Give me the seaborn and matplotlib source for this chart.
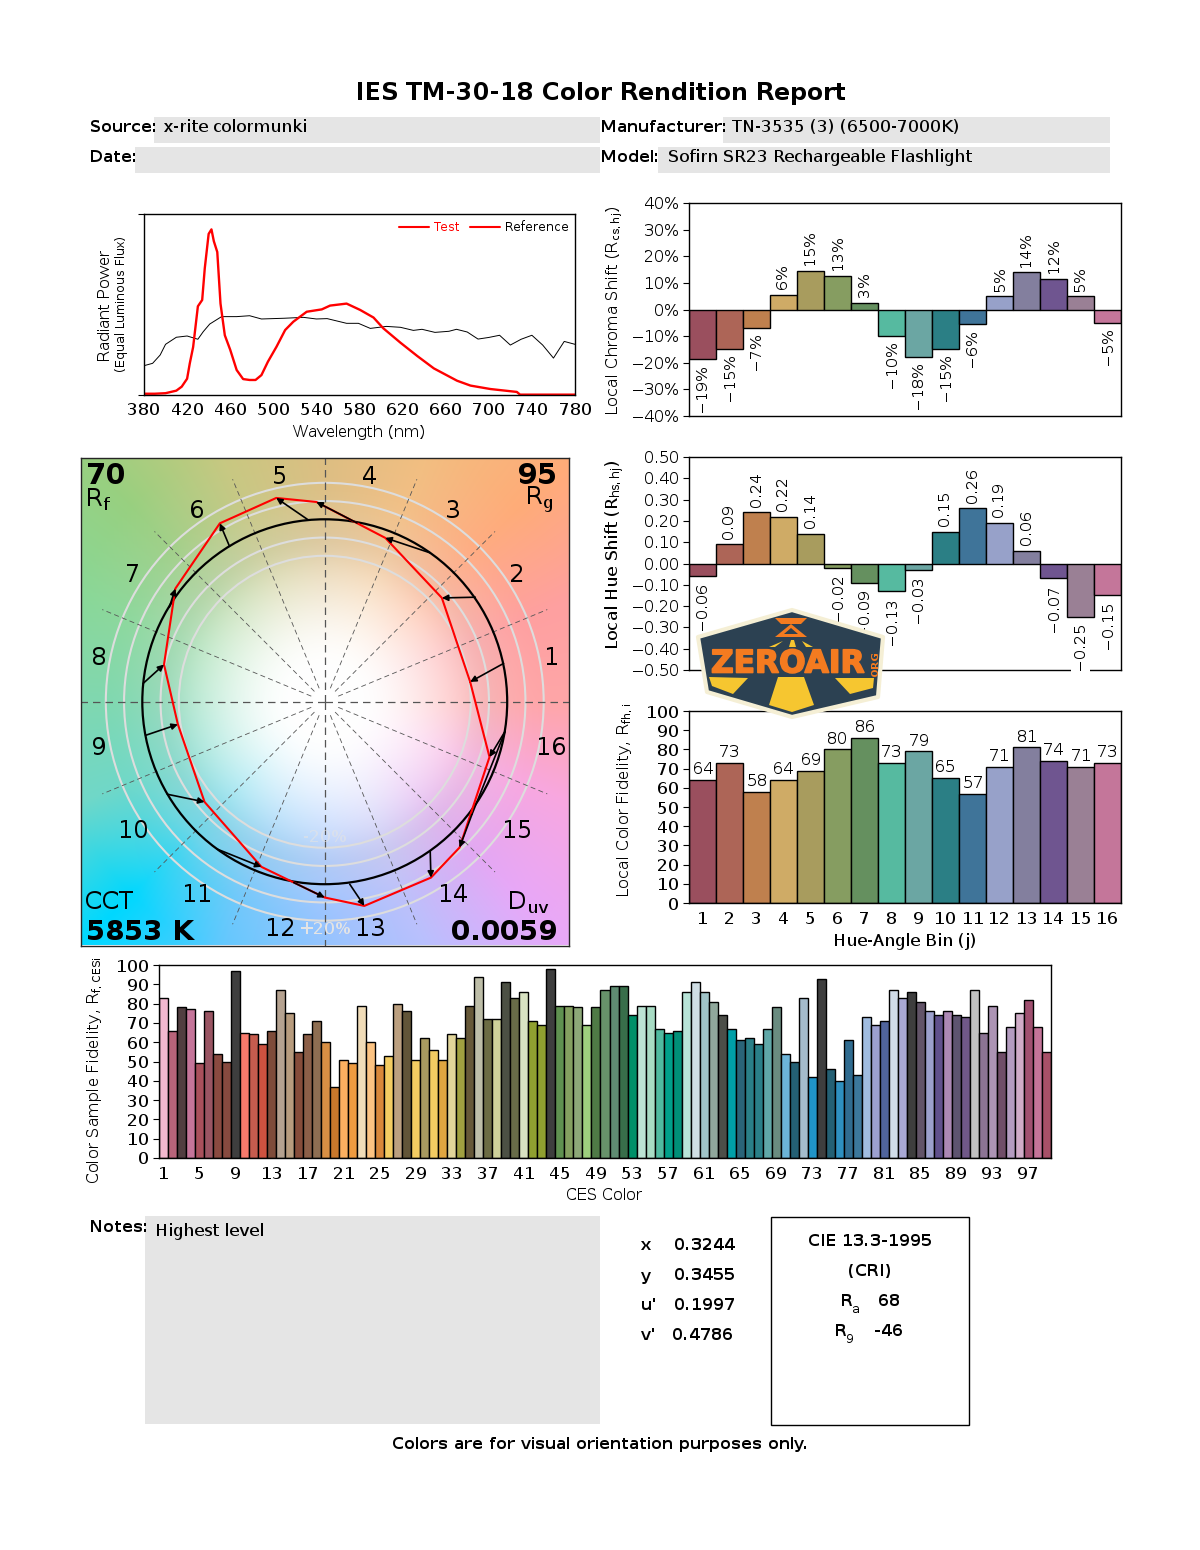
import numpy as np
import matplotlib
matplotlib.use("Agg")
import matplotlib.pyplot as plt
import matplotlib.patheffects as pe
from matplotlib.lines import Line2D
from matplotlib.patches import Circle, Polygon, Rectangle
import seaborn as sns

# spectra (relative power)
test_wl = [380, 390, 400, 410, 415, 420, 422.5, 425.6, 430, 434, 436.4, 440, 442.6, 444.8, 448, 451, 455, 460,
           466, 472, 478, 483.5, 489, 495, 503, 511, 518.6, 531, 545, 552.7, 568, 580.6, 593, 602, 618, 633.7,
           649, 670.5, 683, 701.5, 726, 729, 780]
test_power = [.007, .007, .010, .024, .046, .090, .175, .265, .490, .525, .700, .890, .915, .850, .790, .505, .330,
              .250, .138, .088, .083, .083, .110, .184, .267, .359, .405, .460, .473, .494, .505, .470, .428, .369,
              .289, .215, .147, .079, .052, .033, .017, .002, .002]
ref_wl = [380, 388, 395, 400, 410, 420, 430, 435, 441, 452, 466, 478, 489, 510, 528, 540, 550, 568, 579, 590, 605,
          618, 630, 638, 650, 663, 670, 680, 690, 700, 710, 720, 730, 740, 750, 760, 770, 780]
ref_power = [.162, .175, .221, .280, .319, .326, .308, .350, .392, .433, .433, .438, .420, .424, .429, .420, .422,
             .396, .396, .368, .379, .374, .357, .363, .346, .352, .363, .348, .309, .318, .330, .276, .308, .330,
             .276, .204, .296, .280]

bins = [str(i) for i in range(1, 17)]
bin_colors = ["#9A4F5E", "#AD6557", "#BF804E", "#CFAB66", "#A89C5E", "#869D61", "#65905F", "#56BAA0",
              "#6BA6A3", "#2B7F85", "#3F7499", "#97A1C9", "#837F9E", "#6F5590", "#9A8095", "#C4769A"]
chroma_shift = [-18.7, -14.7, -6.8, 5.6, 14.6, 12.7, 2.6, -9.8, -17.7, -14.7, -5.6, 4.9, 13.9, 11.6, 4.9, -4.9]
hue_shift = [-.06, .09, .24, .22, .14, -.02, -.09, -.13, -.03, .15, .26, .19, .06, -.07, -.25, -.15]
local_fidelity = [64, 73, 58, 64, 69, 80, 86, 73, 79, 65, 57, 71, 81, 74, 71, 73]

ces = [str(i) for i in range(1, 100)]
ces_fidelity = [83, 66, 78, 77, 49, 76, 54, 50, 97, 65, 64, 59, 66, 87, 75, 55, 64, 71, 60, 37,
                51, 49, 79, 60, 48, 53, 80, 76, 51, 62, 56, 51, 64, 62, 79, 94, 72, 72, 91, 83,
                86, 71, 69, 98, 79, 79, 78, 69, 78, 87, 89, 89, 74, 79, 79, 67, 65, 66, 86, 91,
                86, 81, 74, 67, 61, 62, 59, 67, 78, 54, 50, 83, 42, 93, 46, 40, 61, 43, 73, 69,
                71, 87, 83, 86, 81, 76, 74, 76, 74, 73, 87, 65, 79, 55, 68, 75, 82, 68, 55]
ces_colors = ["#F2B8CF", "#B8647A", "#513E40", "#C5759A", "#A9505C", "#9A5563", "#8A4A40", "#874A3F", "#3E3E3E",
              "#F87A6C", "#C65C4E", "#CE5240", "#7E4C3A", "#B5A290", "#B89C7E", "#864C3A", "#8C5F48", "#8E6E52",
              "#D88F44", "#C9782C", "#FBB060", "#EE9B40", "#F0DCB8", "#FCC382", "#D8873A", "#F3CC62", "#BCA080",
              "#625538", "#F3CC62", "#A89A60", "#F3CC62", "#E0A640", "#E1D59A", "#A0A040", "#665838", "#BEBEA8",
              "#6C6C44", "#CFD29A", "#4C5044", "#686C48", "#D8E2C2", "#90A030", "#90A030", "#3E3E3E", "#5F9150",
              "#84A060", "#8DA878", "#9ED07E", "#4F7A46", "#67926A", "#5F8C72", "#386E4A", "#009068", "#BCE4D4",
              "#A8DCC4", "#50BAA0", "#00A08A", "#009078", "#B8E4D8", "#D0DEE4", "#A0C4C8", "#90A89C", "#4C4E48",
              "#00A0A8", "#2A6478", "#2A8088", "#2A8088", "#60A8A8", "#6A8C80", "#6CB4D8", "#246074", "#A4BCCC",
              "#2094C8", "#3E3E3E", "#246074", "#2E90C0", "#306C90", "#3C789C", "#A0BCE0", "#9CA0D0", "#50649C",
              "#D0DCE8", "#A8A8D4", "#3E3E3E", "#625468", "#9CA0CC", "#60508C", "#AC88B4", "#5E5470", "#705888",
              "#C0C0C0", "#8C7494", "#AC94B4", "#704E68", "#B49CC0", "#D0ACC8", "#A05070", "#C47498", "#A85068"]

# gamut graph, bins 1-16, reference circle units
ref_x = [.980, .825, .578, .177, -.088, -.522, -.852, -.996, -.982, -.863, -.589, -.170, .137, .578, .807, .989]
ref_y = [.210, .573, .816, .980, .995, .852, .518, .100, -.184, -.507, -.808, -.991, -1.0, -.818, -.617, -.161]
test_x = [.797, .642, .332, -.046, -.266, -.575, -.819, -.881, -.805, -.659, -.347, 0, .217, .582, .739, .903]
test_y = [.109, .569, .898, 1.095, 1.117, .978, .620, .204, -.124, -.549, -.905, -1.073, -1.119, -.964, -.799, -.303]
wheel_angles = [0, 22.5, 45, 67.5, 90, 112.5, 135, 157.5, 180, 202.5, 225, 247.5, 270, 292.5, 315, 337.5, 360]
wheel_colors = ["#FFA6A8", "#FFA0A0", "#FFAC78", "#F2BE80", "#DDBD7F", "#C8C880", "#98D080", "#88D898", "#80D8B0",
                "#70D8C8", "#00D8FF", "#60C8FF", "#90C4FF", "#B8C0FF", "#E8A8F8", "#F8A8E0", "#FFA6A8"]
wheel_inner = ["#FFA6A8", "#FFA0A0", "#FFAC88", "#F2C088", "#DDC088", "#C8C888", "#A8D090", "#90D8A0", "#80D8B0",
               "#70D8C8", "#60D4E8", "#80C8F8", "#A0C4FF", "#C0C0F8", "#E0A8F0", "#F8A8E0", "#FFA6A8"]

W, H = 1200, 1550
sns.set_style("ticks")
plt.rcParams["font.family"] = ["DejaVu Sans"]
plt.rcParams["mathtext.default"] = "regular"
plt.rcParams["text.hinting"] = "native"
plt.rcParams["text.hinting_factor"] = 1
for key in ["text.color", "axes.labelcolor", "xtick.color", "ytick.color"]:
    plt.rcParams[key] = "black"
GREY = "#E5E5E5"

fig = plt.figure(figsize=(W / 100, H / 100), dpi=100)
page = fig.add_axes([0, 0, 1, 1], zorder=10)
page.set_xlim(0, W)
page.set_ylim(H, 0)
page.axis("off")
page.patch.set_alpha(0)


def panel(left, top, right, bottom):
    ax = fig.add_axes([left / W, 1 - bottom / H, (right - left) / W, (bottom - top) / H])
    ax.tick_params(axis="x", length=0, labelsize=12, pad=6)
    ax.tick_params(axis="y", labelsize=12, length=4, width=0.8)
    for s in ax.spines.values():
        s.set_linewidth(1.0)
        s.set_color("black")
    return ax


def ylabel(ax, text, x, y, size=12):
    ax.set_ylabel(text, fontsize=size, va="center")
    ax.yaxis.set_label_coords(x, y, transform=page.transData)


def xlabel(ax, text, x, y, size=12):
    ax.set_xlabel(text, fontsize=size, va="center")
    ax.xaxis.set_label_coords(x, y, transform=page.transData)


def bars(ax, labels, values, colors):
    sns.barplot(x=labels, y=values, hue=labels, palette=colors, legend=False, width=1, dodge=False, saturation=1,
                edgecolor="black", linewidth=1.0, ax=ax)
    ax.set_xlim(-0.5, len(labels) - 0.5)


def minus(s):
    return s.replace("-", "\u2212")


# header and text blocks
page.text(600.5, 93.5, "IES TM-30-18 Color Rendition Report", ha="center", va="center", fontsize=17, fontweight="bold")
for x0, y0, x1, y1 in [(154, 117, 600, 143), (723, 117, 1110, 143), (135, 147, 600, 173), (658, 147, 1110, 173),
                       (145, 1216, 600, 1424)]:
    page.add_patch(Rectangle((x0, y0), x1 - x0, y1 - y0, fc=GREY, ec="none"))
for x, y, s in [(90, 127, "Source:"), (601, 127, "Manufacturer:"), (90, 157, "Date:"), (601, 157, "Model:"),
                (90, 1227, "Notes:")]:
    page.text(x, y, s, va="center", fontsize=11.3, fontweight="bold")
for x, y, s, size in [(163, 127, "x-rite colormunki", 12.5), (732, 127, "TN-3535 (3) (6500-7000K)", 12.5),
                      (668, 157, "Sofirn SR23 Rechargeable Flashlight", 12.2), (155, 1232, "Highest level", 12)]:
    page.text(x, y, s, va="center", fontsize=size)

for y, a, ax_, b in [(1246, "x", 674, "0.3244"), (1276, "y", 674, "0.3455"), (1306, "u'", 674, "0.1997"),
                     (1336, "v'", 672, "0.4786")]:
    page.text(641, y, a, va="center", fontsize=11.5, fontweight="bold")
    page.text(ax_, y, b, va="center", fontsize=11.5, fontweight="bold")
page.add_patch(Rectangle((771, 1216.5), 198, 208, fc="none", ec="black", lw=1))
page.text(870, 1241, "CIE 13.3-1995", ha="center", va="center", fontsize=11.5, fontweight="bold")
page.text(870, 1271, "(CRI)", ha="center", va="center", fontsize=11.5, fontweight="bold")
page.text(841, 1301, "R", va="center", fontsize=11.5, fontweight="bold")
page.text(852, 1309, "a", va="center", fontsize=9)
page.text(878, 1301, "68", va="center", fontsize=11.5, fontweight="bold")
page.text(835, 1331, "R", va="center", fontsize=11.5, fontweight="bold")
page.text(846, 1339, "9", va="center", fontsize=9)
page.text(874, 1331, "-46", va="center", fontsize=11.5, fontweight="bold")
page.text(601, 1445, "Colors are for visual orientation purposes only.", ha="center", va="center", fontsize=11.7,
          fontweight="bold")

# spectrum
ax = panel(144, 214, 575, 395)
sns.lineplot(x=ref_wl, y=ref_power, color="black", linewidth=0.7, estimator=None, ax=ax)
sns.lineplot(x=test_wl, y=test_power, color="red", linewidth=1.7, estimator=None, ax=ax)
ax.set_xlim(380, 780)
ax.set_ylim(0, 1)
ax.set_xticks(range(380, 781, 40))
ax.set_yticks([0, 1])
ax.set_yticklabels([])
ax.tick_params(axis="y", length=4)
ax.tick_params(axis="x", length=0, pad=5)
xlabel(ax, "Wavelength (nm)", 359, 432, size=11.7)
page.text(105, 305, "Radiant Power", rotation=90, ha="center", va="center", fontsize=11.6)
page.text(122, 304, "(Equal Luminous Flux)", rotation=90, ha="center", va="center", fontsize=8.5)
ax.legend(handles=[Line2D([], [], color="red", lw=1.5), Line2D([], [], color="red", lw=1.5)],
          labels=["Test", "Reference"], labelcolor=["red", "black"], ncol=2, frameon=False, fontsize=9,
          loc="upper right", borderaxespad=0.1, columnspacing=0.8, handlelength=2.4, handletextpad=0.4)

# gamut graph
ax = fig.add_axes([81 / W, 1 - 945.5 / H, 487.5 / W, 487.5 / H])
lim = 1.336
grid = np.linspace(-lim, lim, 500)
gx, gy = np.meshgrid(grid, grid)
radius = np.hypot(gx, gy)
theta = np.degrees(np.arctan2(gy, gx)) % 360


def wheel(colors):
    rgb = np.array([[int(c[i:i + 2], 16) / 255 for i in (1, 3, 5)] for c in colors])
    return np.dstack([np.interp(theta, wheel_angles, rgb[:, k]) for k in range(3)])


outer = np.clip((radius - 1.0) / 0.5, 0, 1)[..., None]
hue = wheel(wheel_inner) * (1 - outer) + wheel(wheel_colors) * outer
w = np.clip((radius - 0.15) / 1.08, 0, 1)
w = (w * w * (3 - 2 * w))[..., None]
shade = 1 - 0.03 * np.exp(-((radius - 0.88) / 0.14) ** 2)[..., None]
ax.imshow((1 - w + w * hue) * shade, extent=(-lim, lim, -lim, lim), origin="lower", zorder=0, aspect="equal")
for r in [0.8, 0.9, 1.1, 1.2]:
    ax.add_patch(Circle((0, 0), r, fc="none", ec="#DDDDDD", lw=1.5, zorder=1))
for k in range(16):
    a = np.radians(22.5 * k)
    axial = k % 4 == 0
    r0, r1 = (0.0, lim) if axial else (0.08, 1.32)
    ax.plot([r0 * np.cos(a), r1 * np.cos(a)], [r0 * np.sin(a), r1 * np.sin(a)], color="#555555",
            lw=0.9 if axial else 0.6, ls=(0, (6, 4)), zorder=2)
ax.add_patch(Circle((0, 0), 1, fc="none", ec="black", lw=1.6, zorder=3))
ax.plot(ref_x[14:16], ref_y[14:16], color="black", lw=1.2, zorder=3)
ax.plot(test_x + test_x[:1], test_y + test_y[:1], color="red", lw=1.5, zorder=4)
for x0, y0, x1, y1 in zip(ref_x, ref_y, test_x, test_y):
    ax.annotate("", xy=(x1, y1), xytext=(x0, y0), zorder=5,
                arrowprops=dict(arrowstyle="-|>", color="black", lw=1.2, shrinkA=0, shrinkB=0, mutation_scale=9))
for k, b in enumerate(bins):
    a = np.radians(11.25 + 22.5 * k)
    ax.text(1.265 * np.cos(a), 1.265 * np.sin(a) - 0.01, b, ha="center", va="center", fontsize=17, zorder=6)
ax.text(0, -0.745, "-20%", ha="center", va="center", fontsize=12, color="#E4E4E4", alpha=0.6, zorder=2)
ax.text(0, -1.25, "+20%", ha="center", va="center", fontsize=12, color="#E4E4E4", zorder=2)
ax.set_xlim(-lim, lim)
ax.set_ylim(-lim, lim)
ax.set_xticks([])
ax.set_yticks([])
for s in ax.spines.values():
    s.set_linewidth(1.0)
page.text(86, 476, "70", va="center", fontsize=21, fontweight="bold")
page.text(85, 500, "$R_f$", va="center", fontsize=18)
page.text(557, 476, "95", ha="right", va="center", fontsize=21, fontweight="bold")
page.text(554, 500, "$R_g$", ha="right", va="center", fontsize=18)
page.text(85, 902, "CCT", va="center", fontsize=18)
page.text(86, 932, "5853 K", va="center", fontsize=20.5, fontweight="bold")
page.text(550, 903, "$D_{uv}$", ha="right", va="center", fontsize=18)
page.text(557, 932, "0.0059", ha="right", va="center", fontsize=20.5, fontweight="bold")

# chroma shift
ax = panel(689, 203, 1121, 416)
bars(ax, bins, chroma_shift, bin_colors)
ax.set_ylim(-40, 40)
ax.set_yticks(range(-40, 41, 10))
ax.set_yticklabels([minus(f"{v}%") for v in range(-40, 41, 10)], fontsize=11.5)
ax.set_xticks([])
ylabel(ax, "Local Chroma Shift ($R_{cs,hj}$)", 615, 310, size=11.7)
for c, v in zip(ax.containers, chroma_shift):
    ax.bar_label(c, labels=[minus(f"{v:.0f}%")], rotation=90, padding=4, fontsize=10.5,
                 bbox=dict(fc="white", ec="none", pad=1.5))

# hue shift
ax = panel(689, 457, 1121, 670)
bars(ax, bins, hue_shift, bin_colors)
ax.set_ylim(-0.5, 0.5)
ticks = np.arange(-5, 6) / 10
ax.set_yticks(ticks)
ax.set_yticklabels([minus(f"{v:.2f}") for v in ticks], fontsize=11.5)
ax.set_xticks([])
ylabel(ax, "Local Hue Shift ($R_{hs,hj}$)", 615, 555, size=12)
for c, v in zip(ax.containers, hue_shift):
    ax.bar_label(c, labels=[minus(f"{v:.2f}")], rotation=90, padding=4, fontsize=10.5,
                 bbox=dict(fc="white", ec="none", pad=1.5))

# local fidelity
ax = panel(689, 711, 1121, 903)
bars(ax, bins, local_fidelity, bin_colors)
ax.set_ylim(0, 100)
ax.set_yticks(range(0, 101, 10))
ylabel(ax, "Local Color Fidelity, $R_{fh,i}$", 625, 800, size=11.7)
xlabel(ax, "Hue-Angle Bin (j)", 905, 941)
for c, v in zip(ax.containers, local_fidelity):
    ax.bar_label(c, labels=[str(v)], padding=2, fontsize=11.5)

# sample fidelity
ax = panel(159, 965, 1051, 1158)
bars(ax, ces, ces_fidelity, ces_colors)
ax.set_ylim(0, 100)
ax.set_yticks(range(0, 101, 10))
ax.set_xticks(range(0, 99, 4))
ax.set_xticklabels(ces[::4])
ylabel(ax, "Color Sample Fidelity, $R_{f,CESi}$", 95, 1070, size=11.7)
xlabel(ax, "CES Color", 604, 1195, size=11.7)

# site logo, sits over the charts
hexagon = [(792, 610), (883, 637), (878, 697), (792, 717), (707, 692), (698, 637)]
page.add_patch(Polygon(hexagon, closed=True, fc="#2C4152", ec="#F5EFD5", lw=3, joinstyle="round"))
for pts in [[(709, 677), (748, 678), (733, 694), (712, 686)],
            [(778, 677), (804, 677), (814, 705), (792, 712), (769, 705)],
            [(835, 678), (874, 678), (873, 688), (850, 694)],
            [(769, 647), (783, 641), (775, 647)], [(789, 647), (791, 640), (794, 640), (796, 647)],
            [(802, 641), (813, 647), (806, 647)]]:
    page.add_patch(Polygon(pts, closed=True, fc="#F6C630", ec="none"))
for pts in [[(775, 618), (807, 618), (801, 624), (781, 624)], [(791, 624), (807, 637), (775, 637)]]:
    page.add_patch(Polygon(pts, closed=True, fc="#F47B20", ec="none"))
page.add_patch(Polygon([(791, 628), (798, 634), (784, 634)], closed=True, fc="#2C4152", ec="none"))
page.text(787, 664, "ZEROAIR", ha="center", va="center", fontsize=22.5, fontweight="bold", color="#F47B20",
          path_effects=[pe.withStroke(linewidth=1.2, foreground="#F47B20")])
page.text(875, 664, "ORG", ha="center", va="center", rotation=90, fontsize=7, fontweight="bold", color="#F47B20")

fig.savefig("out.png", dpi=100)
